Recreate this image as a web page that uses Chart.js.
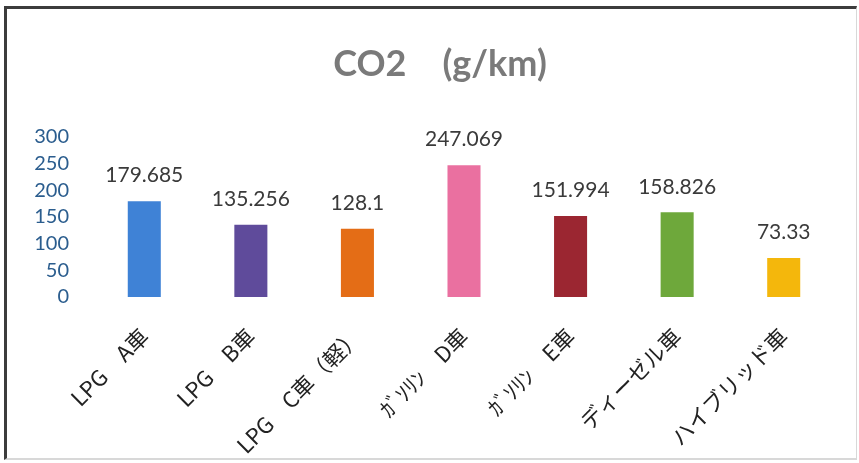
<!DOCTYPE html>
<html>
<head>
<meta charset="utf-8">
<script src="https://cdn.jsdelivr.net/npm/chart.js@4"></script>
<style>
  html, body { margin: 0; padding: 0; background: #fff; }
  #wrap { position: relative; width: 859px; height: 463px; }
  #frame {
    position: absolute; left: 4px; top: 6px; right: 2px; bottom: 3px;
    border-left: 3px solid #3c3c3c; border-top: 3px solid #3c3c3c;
    border-right: 1px solid #d8d8d8; border-bottom: 2px solid #d8d8d8;
    pointer-events: none;
  }
</style>
</head>
<body>
<div id="wrap">
  <canvas id="myChart" width="859" height="463"></canvas>
  <div id="frame"></div>
</div>
<script>
// データ
var cars = ['LPG　A車', 'LPG　B車', 'LPG　C車（軽）', 'ｶﾞｿﾘﾝ　D車', 'ｶﾞｿﾘﾝ　E車', 'ディーゼル車', 'ハイブリッド車'];
var co2 = [179.685, 135.256, 128.1, 247.069, 151.994, 158.826, 73.33];
var co2Labels = ['179.685', '135.256', '128.1', '247.069', '151.994', '158.826', '73.33'];
var barColors = ['#3f82d6', '#5f4b9b', '#e46d16', '#ea70a0', '#9b2631', '#6ea83b', '#f4b70c'];
var titleText = 'CO2　(g/km)';

// 棒の上に値、上にタイトル
var extraText = {
  id: 'extraText',
  afterDatasetsDraw: function(chart) {
    var ctx = chart.ctx;
    var meta = chart.getDatasetMeta(0);
    ctx.save();
    ctx.font = '21px Lato';
    ctx.fillStyle = '#3a3a3a';
    ctx.textAlign = 'center';
    ctx.textBaseline = 'bottom';
    meta.data.forEach(function(bar, i) {
      ctx.fillText(co2Labels[i], bar.x, bar.y - 15);
    });

    ctx.font = 'bold 36px Lato';
    ctx.fillStyle = '#7a7a7a';
    ctx.textBaseline = 'middle';
    ctx.fillText(titleText, 440, 64);
    ctx.restore();
  }
};

var ctx = document.getElementById('myChart').getContext('2d');
var chart = new Chart(ctx, {
  type: 'bar',
  data: {
    labels: cars,
    datasets: [{
      label: 'CO2',
      data: co2,
      backgroundColor: barColors,
      barPercentage: 0.31,
      categoryPercentage: 1
    }]
  },
  options: {
    responsive: false,
    animation: false,
    layout: { padding: { left: 0, right: 22, top: 137, bottom: 0 } },
    plugins: {
      legend: { display: false },
      tooltip: { enabled: false },
      title: { display: false }
    },
    scales: {
      x: {
        grid: { display: false },
        border: { display: false },
        ticks: {
          color: '#222',
          font: { family: '"Noto Sans CJK JP"', size: 22 },
          maxRotation: 45,
          minRotation: 45,
          autoSkip: false,
          padding: 18
        },
        afterFit: function(scale) {
          scale.height = 166;
          scale.paddingLeft = 0;
          scale.paddingRight = 0;
        }
      },
      y: {
        min: 0,
        max: 300,
        grid: { display: false },
        border: { display: false },
        ticks: {
          stepSize: 50,
          autoSkip: false,
          color: '#2b5d8e',
          font: { family: 'Lato', size: 20 },
          padding: 14
        },
        afterFit: function(scale) {
          scale.width = 91;
        }
      }
    }
  },
  plugins: [extraText]
});
</script>
</body>
</html>
